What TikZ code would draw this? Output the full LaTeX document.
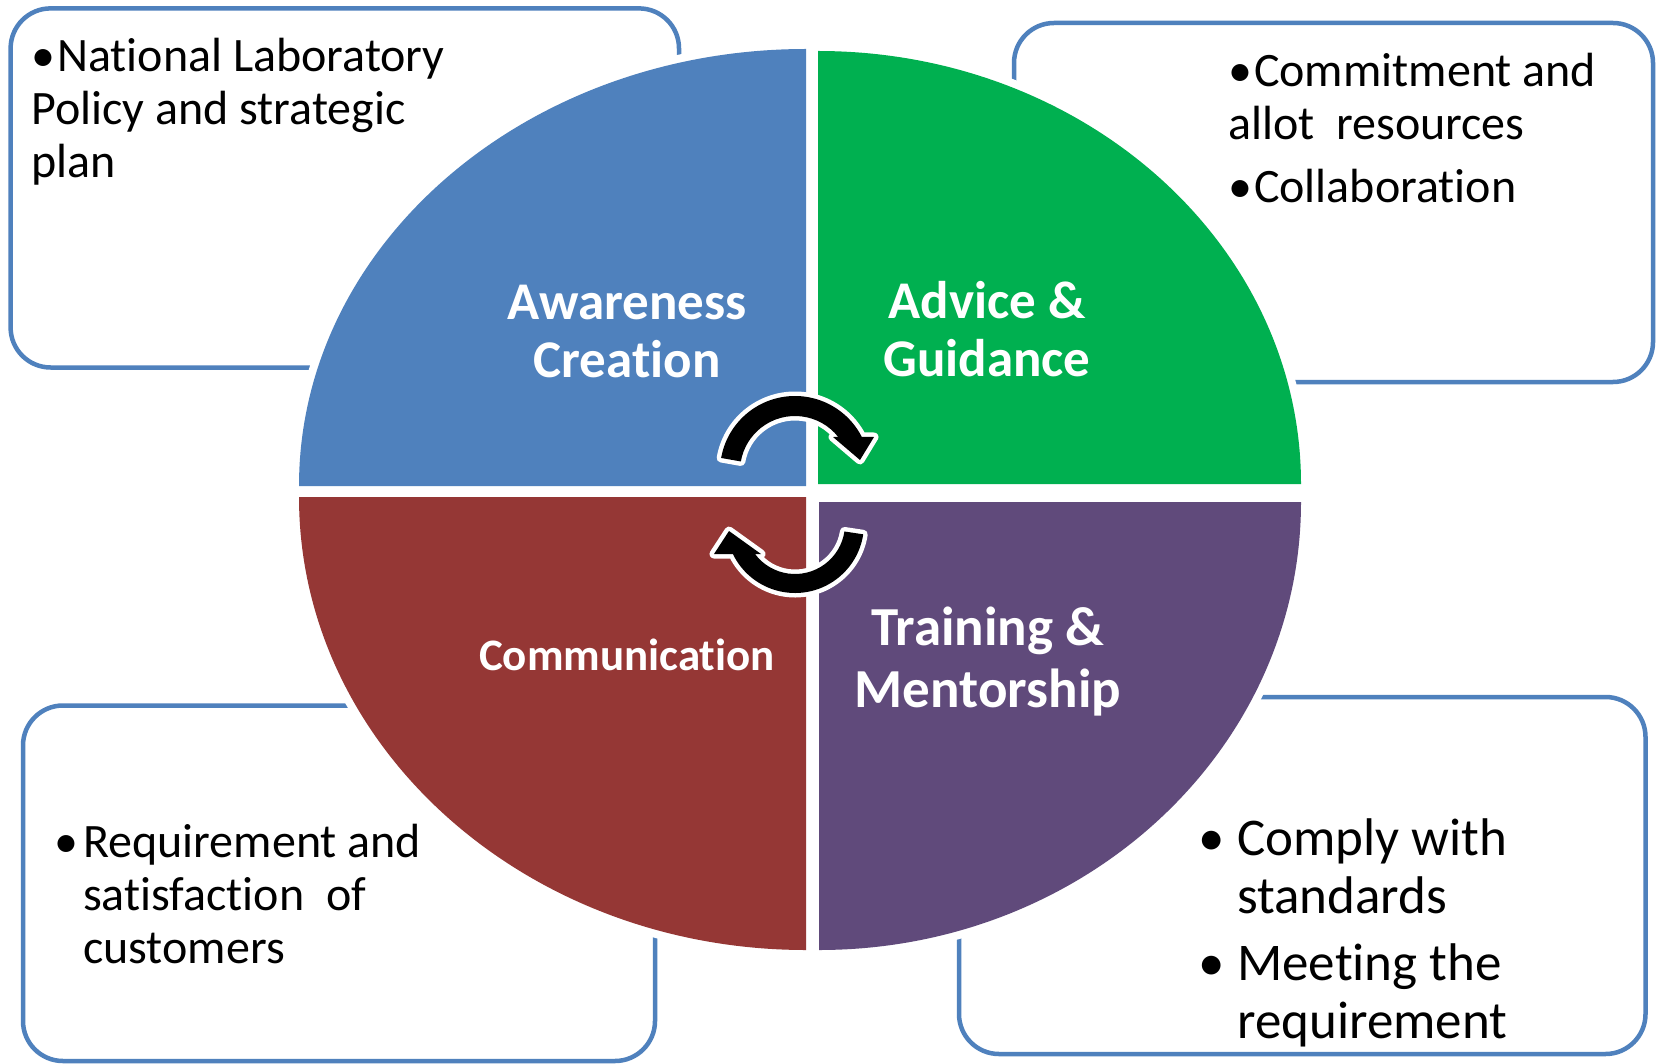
\documentclass[tikz,border=0pt]{standalone}
\usepackage{fontspec}
\setmainfont{Carlito}[Ligatures=NoCommon]
\definecolor{boxline}{HTML}{4F81BD}
\definecolor{qblue}{HTML}{4F81BD}
\definecolor{qgreen}{HTML}{00B050}
\definecolor{qred}{HTML}{953735}
\definecolor{qpurple}{HTML}{604A7B}
% fixes the height of a first line so that north anchors sit a known distance above its baseline
\newcommand{\firststrut}[1]{\rule{0pt}{#1}}

\begin{document}
\begin{tikzpicture}[x=1pt,y=-1pt,
  infobox/.style={draw=boxline, line width=4.5pt, rounded corners=40pt},
  halo/.style={draw=white, line width=16pt, line join=round},
  bodytext/.style={inner sep=0pt, anchor=north west, align=left, font=\fontsize{48}{53}\selectfont},
  bigbody/.style={inner sep=0pt, anchor=north west, align=left, font=\fontsize{53}{58}\selectfont},
  quadlabel/.style={inner sep=0pt, text=white, align=center, font=\bfseries\fontsize{53}{58}\selectfont},
  cyclearrow/.style={fill=black, preaction={draw=white, line width=9pt, line join=round}}
]
\useasboundingbox[fill=white] (0,0) rectangle (1656,1064);

% outer text boxes
\draw[infobox] (10.6,8.4) rectangle (679,367.5);
\draw[infobox] (1014,23) rectangle (1653,382);
\draw[infobox] (23,705.5) rectangle (655,1061);
\draw[infobox] (959,697) rectangle (1645.5,1054);

% white rims of the four quarters
\path[halo] (806,486) -- ++(-507,0) arc[start angle=180,end angle=270,x radius=507,y radius=437] -- cycle;
\path[halo] (818,484) -- ++(0,-433) arc[start angle=270,end angle=360,x radius=483,y radius=433] -- cycle;
\path[halo] (806,497) -- ++(-507,0) arc[start angle=180,end angle=90,x radius=507,y radius=453] -- cycle;
\path[halo] (819,502) -- ++(482,0) arc[start angle=0,end angle=90,x radius=482,y radius=448] -- cycle;

% the four quarters
\fill[qblue] (806,486) -- ++(-507,0) arc[start angle=180,end angle=270,x radius=507,y radius=437] -- cycle;
\fill[qgreen] (818,484) -- ++(0,-433) arc[start angle=270,end angle=360,x radius=483,y radius=433] -- cycle;
\fill[qred] (806,497) -- ++(-507,0) arc[start angle=180,end angle=90,x radius=507,y radius=453] -- cycle;
\fill[qpurple] (819,502) -- ++(482,0) arc[start angle=0,end angle=90,x radius=482,y radius=448] -- cycle;

% circular arrows in the middle
\fill[cyclearrow, shift={(795,471)}] (190:75) arc[start angle=190,end angle=333,radius=75]
  -- (79,-34) -- (65,-11) -- (38,-34) -- (321.8:55)
  arc[start angle=321.8,end angle=190,radius=55] -- cycle;
\fill[cyclearrow, shift={(795,524)}] (8.6:69) arc[start angle=8.6,end angle=154.2,radius=69]
  -- (-81,30) -- (-66,7) -- (-34,30) -- (143.1:50)
  arc[start angle=143.1,end angle=8.6,radius=50] -- cycle;

% quarter labels
\node[quadlabel, anchor=north] (aware) at (627,274) {\firststrut{45pt}Awareness\\Creation};
\node[quadlabel, anchor=north] (advice) at (987,273) {\firststrut{45pt}Advice \&\\Guidance};
\node[quadlabel, anchor=base, font=\bfseries\fontsize{45}{50}\selectfont] (comm) at (627,670) {Communication};
\node[quadlabel, anchor=north, font=\bfseries\fontsize{55}{62}\selectfont] (train) at (988,598) {\firststrut{47pt}Training \&\\Mentorship};

% box texts
\node[bodytext] (tlText) at (31,31) {\firststrut{40pt}•\kern2pt National Laboratory\\Policy and strategic\\plan};
\node[bodytext] (trText) at (1228,46) {\firststrut{40pt}•\kern2pt Commitment and\\allot\ \ resources\\[10pt]•\kern2pt Collaboration};
\node[bodytext] (blText) at (54,817) {\firststrut{40pt}\makebox[29pt][l]{•}Requirement and\\\hspace*{29pt}satisfaction\ \ of\\\hspace*{29pt}customers};
\node[bigbody] (brText) at (1198,810) {\firststrut{45pt}\makebox[39pt][l]{•}Comply with\\\hspace*{39pt}standards\\[9pt]\makebox[39pt][l]{•}Meeting the\\\hspace*{39pt}requirement};
\end{tikzpicture}
\end{document}
